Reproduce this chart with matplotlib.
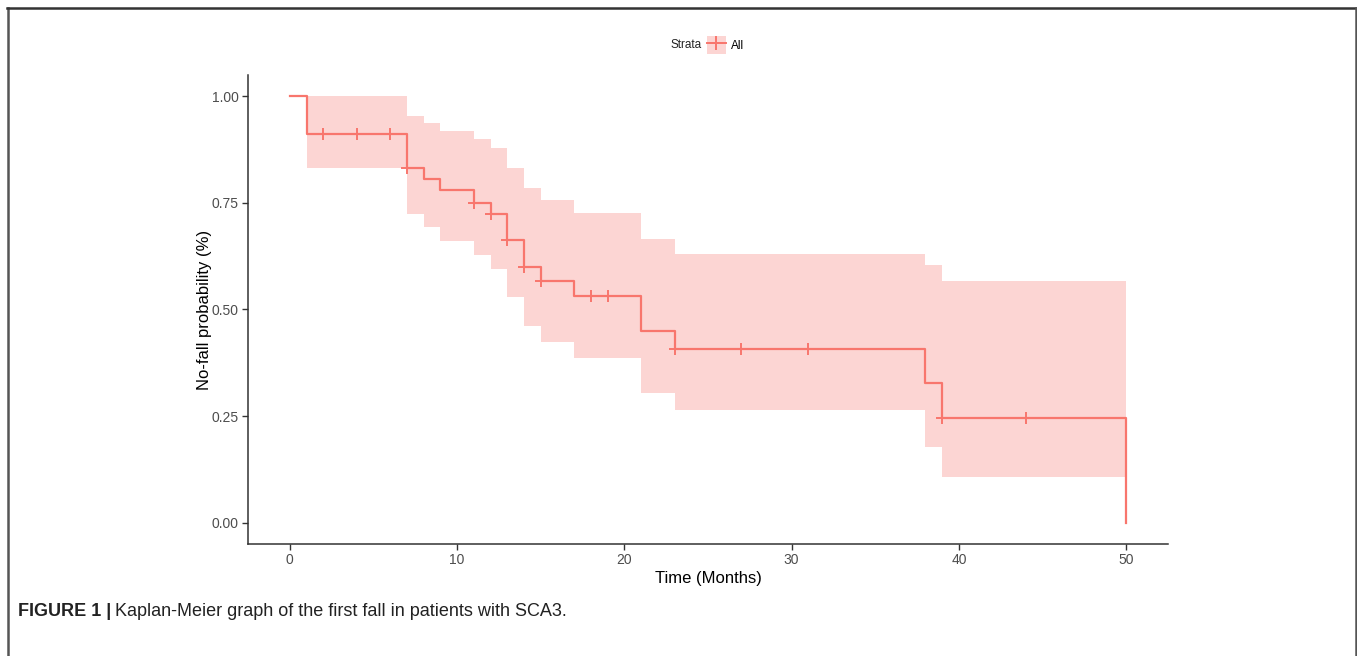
import matplotlib
matplotlib.use("Agg")
import matplotlib.pyplot as plt
from matplotlib.lines import Line2D
from matplotlib.patches import Patch
from matplotlib.legend_handler import HandlerTuple

# ---- data ----
step_times = [0, 1, 7, 8, 9, 11, 12, 13, 14, 15, 17, 21, 23, 38, 39, 50]
survival   = [1.0, 0.911, 0.831, 0.807, 0.780, 0.750, 0.725, 0.664, 0.600,
              0.566, 0.531, 0.450, 0.408, 0.327, 0.245, 0.0]
ci_times   = [1, 7, 8, 9, 11, 12, 13, 14, 15, 17, 21, 23, 38, 39, 50]
ci_upper   = [1.0, 0.955, 0.937, 0.919, 0.901, 0.878, 0.833, 0.785, 0.757,
              0.727, 0.665, 0.631, 0.604, 0.566, 0.566]
ci_lower   = [0.831, 0.725, 0.693, 0.660, 0.628, 0.596, 0.529, 0.461, 0.424,
              0.387, 0.305, 0.264, 0.178, 0.108, 0.108]
censor_times = [2, 4, 6, 7, 11, 12, 13, 14, 15, 18, 19, 23, 27, 31, 39, 44]
censor_surv  = [0.911, 0.911, 0.911, 0.831, 0.750, 0.725, 0.664, 0.600,
                0.566, 0.531, 0.531, 0.408, 0.408, 0.408, 0.245, 0.245]
x_ticks = [0, 10, 20, 30, 40, 50]
y_ticks = [0.00, 0.25, 0.50, 0.75, 1.00]
y_tick_labels = ["0.00", "0.25", "0.50", "0.75", "1.00"]

RED = "#F8766D"
FILL = "#FCD5D3"
AXC = "#4D4D4D"
plt.rcParams['font.family'] = ['Liberation Sans', 'DejaVu Sans']

W, H = 1357, 656
fig = plt.figure(figsize=(W / 100, H / 100), dpi=100)
fig.patch.set_facecolor("white")
ax = fig.add_axes([248 / W, 1 - 544 / H, 920 / W, 469 / H])

ax.fill_between(ci_times, ci_lower, ci_upper, step="post", color=FILL, lw=0)
ax.plot(step_times, survival, drawstyle="steps-post", color=RED, lw=1.6)
ax.plot(censor_times, censor_surv, ls="none", marker="+", ms=8, mew=1.4, color=RED)

ax.set_xlim(-2.5, 52.5)
ax.set_ylim(-0.05, 1.05)
ax.set_xticks(x_ticks)
ax.set_yticks(y_ticks)
ax.set_yticklabels(y_tick_labels)
for s in ["top", "right"]:
    ax.spines[s].set_visible(False)
for s in ["left", "bottom"]:
    ax.spines[s].set_color("#333333")
    ax.spines[s].set_linewidth(1.1)
ax.tick_params(axis="both", length=4, width=1.0, color="#333333",
               labelcolor=AXC, labelsize=10, pad=2.5)
ax.set_xlabel("Time (Months)", fontsize=12, color="black", labelpad=3)
ax.set_ylabel("No-fall probability (%)", fontsize=12, color="black", labelpad=0)

# legend
handle = (Patch(facecolor=FILL, edgecolor="none"),
          Line2D([], [], color=RED, lw=1.4, marker="+", ms=10, mew=1.4))
fig.legend([handle], ["All"], handler_map={tuple: HandlerTuple(ndivide=1, pad=0)},
           loc="center left", bbox_to_anchor=(707 / W, 1 - 45 / H), frameon=False,
           fontsize=8.5, handlelength=1.6, handleheight=1.9, handletextpad=0.45,
           borderaxespad=0, borderpad=0)
fig.text(702 / W, 1 - 45 / H, "Strata", ha="right", va="center", fontsize=8.5,
         color="#222222")

# caption
cap_y = 1 - 612 / H
cap_family = ["Liberation Sans Narrow", "Liberation Sans", "DejaVu Sans"]
t1 = fig.text(18 / W, cap_y, "FIGURE 1 |", fontsize=13, fontweight="bold",
              family=cap_family, va="center", ha="left", color="#222222")
fig.canvas.draw()
bb = t1.get_window_extent()
fig.text((bb.x1 + 4) / W, cap_y, "Kaplan-Meier graph of the first fall in patients with SCA3.",
         fontsize=13, family=cap_family, va="center", ha="left", color="#222222")

# outer frame
bc = "#555555"
fig.add_artist(Line2D([7.5 / W, 7.5 / W], [0, 1 - 8 / H], color=bc, lw=1.8, transform=fig.transFigure))
fig.add_artist(Line2D([7 / W, 1355.5 / W], [1 - 8 / H, 1 - 8 / H], color="#333333", lw=1.8, transform=fig.transFigure))
fig.add_artist(Line2D([1355.5 / W, 1355.5 / W], [0, 1 - 8 / H], color=bc, lw=1.8, transform=fig.transFigure))

fig.savefig("out.png", dpi=100)
